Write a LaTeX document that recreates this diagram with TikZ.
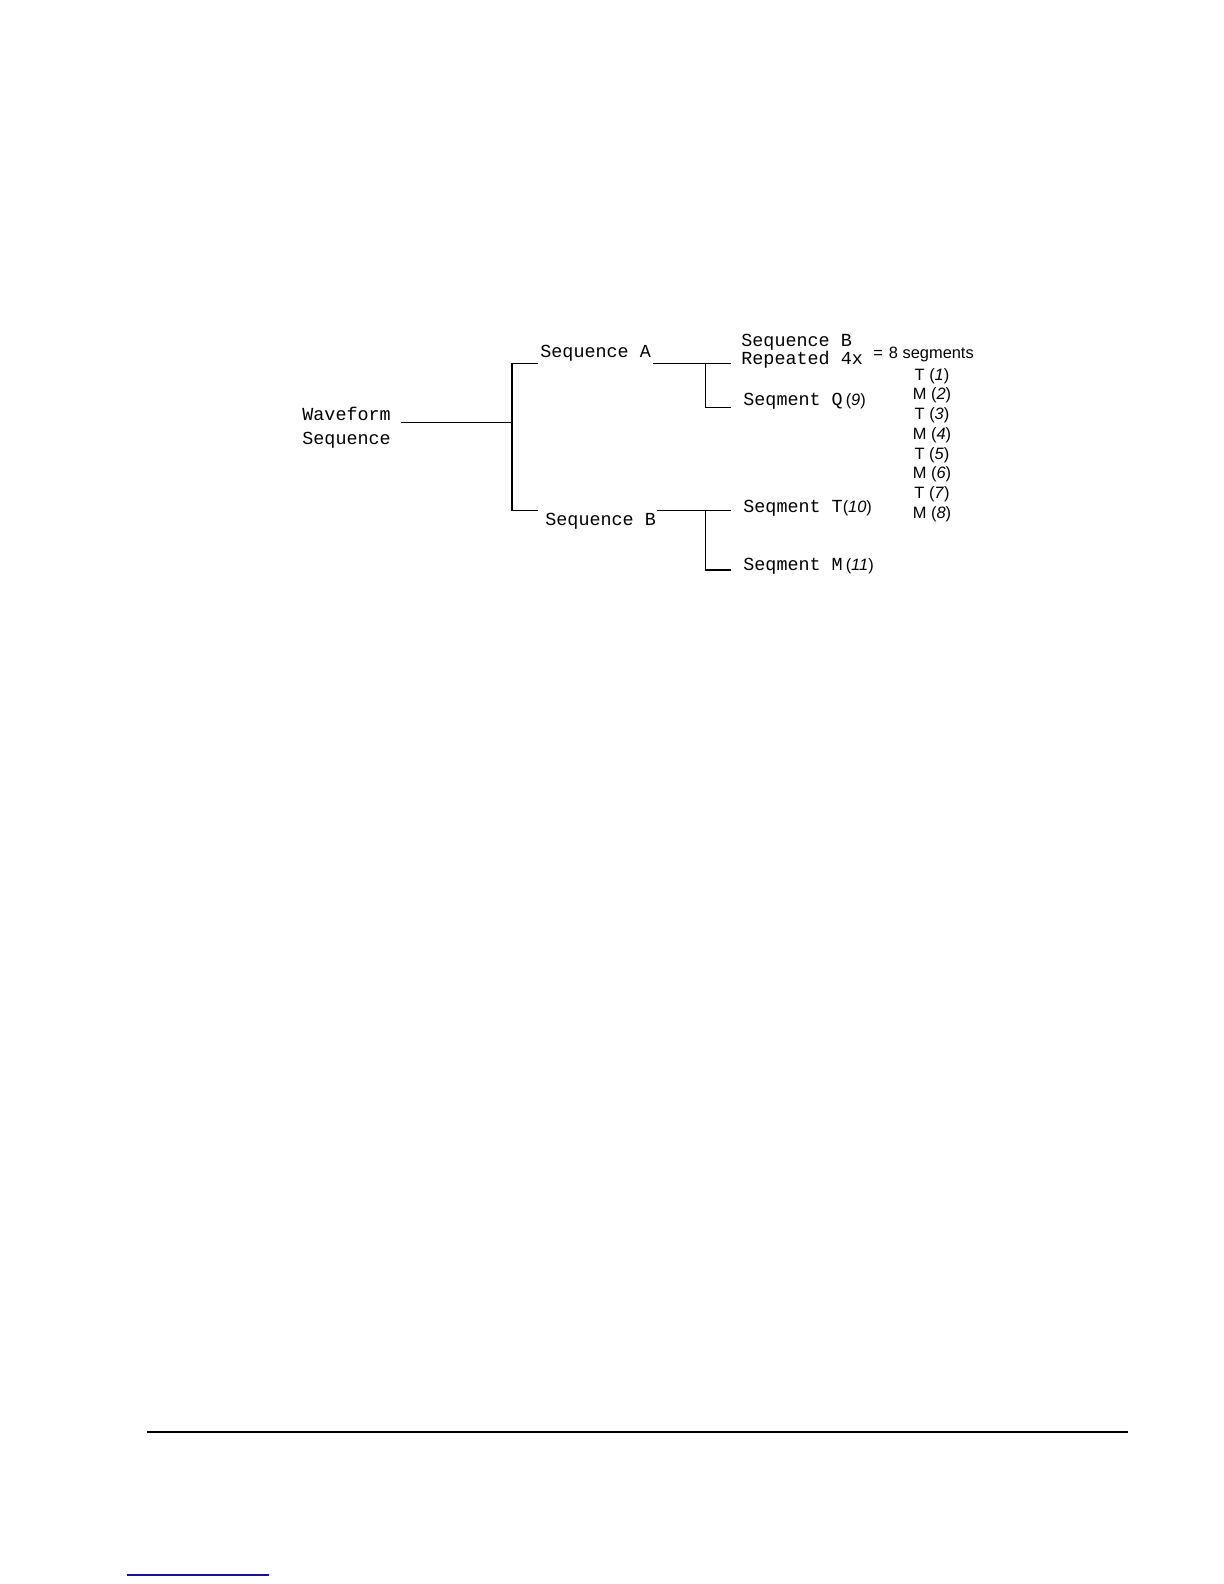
\documentclass[tikz,border=0pt]{standalone}
\usepackage{fontspec}
\newfontfamily\monof{Liberation Mono}
\newfontfamily\sansf{Liberation Sans}
\newcommand\sanstxt{\sansf\fontsize{8.2}{9}\selectfont}
\begin{document}
\begin{tikzpicture}[x=0.5pt,y=-0.5pt,
  mono/.style={font=\monof\fontsize{9.2}{12}\selectfont, inner sep=0pt, anchor=base west},
  sans/.style={font=\sanstxt, inner sep=0pt},
  link/.style={line width=0.6pt, black},
  rule/.style={line width=1.1pt, black},
  bluerule/.style={line width=0.6pt, color={rgb,255:red,20;green,20;blue,140}}]
\useasboundingbox (0,0) rectangle (1224,1584);

% text nodes
\node[mono] (wf1) at (302,420) {Waveform};
\node[mono] (wf2) at (302,444) {Sequence};
\node[mono] (sa) at (540,357.7) {Sequence A};
\node[mono] (sb) at (545,525) {Sequence B};
\node[mono] (rb1) at (741,346.5) {Sequence B};
\node[mono] (rb2) at (741,364) {Repeated 4x};
\node[sans, anchor=base west] (eq) at (873,358.3) {=\hspace{3pt}8 segments};
\node[mono] (sq) at (743,405) {Seqment Q\hspace{1.5pt}{\sanstxt(\textit{9})}};
\node[mono] (st) at (743,512.7) {Seqment T{\sanstxt(\textit{10})}};
\node[mono] (sm) at (743,570.7) {Seqment M\hspace{1.5pt}{\sanstxt(\textit{11})}};

\foreach \i/\lab in {1/T,2/M,3/T,4/M,5/T,6/M,7/T,8/M}{
  \node[sans, anchor=base] (l\i) at (932,{380+(\i-1)*19.75}) {\lab\ (\textit{\i})};
}

% junction coordinates
\coordinate (w0) at (401,422.3);
\coordinate (j1) at (512,422.3);
\coordinate (a0) at (512,363.3);
\coordinate (a1) at (538.3,363.3);
\coordinate (b0) at (512,510.7);
\coordinate (b1) at (538.3,510.7);
\coordinate (a2) at (653,363.3);
\coordinate (a3) at (705.7,363.3);
\coordinate (a4) at (730.7,363.3);
\coordinate (q0) at (705.7,407.3);
\coordinate (q1) at (730.7,407.3);
\coordinate (b2) at (657,510.7);
\coordinate (b3) at (705.7,510.7);
\coordinate (b4) at (730.7,510.7);
\coordinate (m0) at (705.7,570);
\coordinate (m1) at (730.7,570);

% connectors
\draw[link] (w0) -- (j1);
\draw[link] (a1) -- (a0) -- (b0) -- (b1);
\draw[link] (a2) -- (a4);
\draw[link] (a3) -- (q0) -- (q1);
\draw[link] (b2) -- (b4);
\draw[link] (b3) -- (m0) -- (m1);

% page rules
\coordinate (r0) at (146.7,1432);
\coordinate (r1) at (1128,1432);
\draw[rule] (r0) -- (r1);
\coordinate (u0) at (126.7,1575);
\coordinate (u1) at (269,1575);
\draw[bluerule] (u0) -- (u1);
\end{tikzpicture}
\end{document}
